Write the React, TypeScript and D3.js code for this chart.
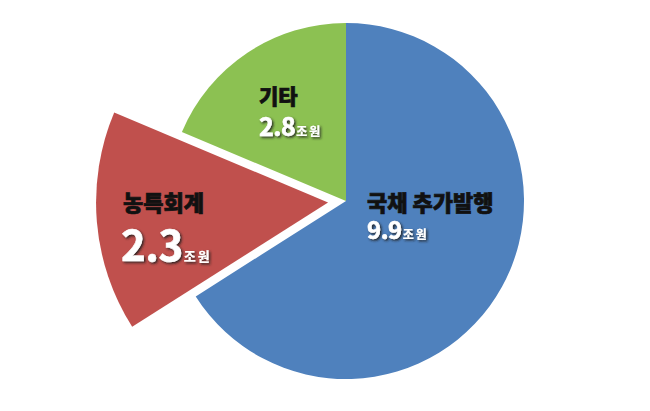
import React from "react";
import * as d3 from "d3";

const categories = ["국채 추가발행", "농특회계", "기타"];
const values = [9.9, 2.3, 2.8];
const valueLabels = ["9.9", "2.3", "2.8"];
const unitLabel = "조원";
const colors = ["#4F81BD", "#C0504D", "#8CC152"];

const W = 650;
const H = 411;
const CX = 346;
const CY = 201;
const R = 178;
const EXPLODE_R = 232;
const EXPLODE_OFFSET = 18;

const labelLayout = [
  { nx: 367, ny: 211, vx: 367, vy: 239, ns: 22, vs: 24, us: 12 },
  { nx: 123, ny: 211, vx: 121, vy: 261, ns: 22, vs: 42, us: 13 },
  { nx: 259, ny: 104, vx: 259, vy: 136, ns: 21, vs: 25, us: 12 },
];

export default function App() {
  const pie = d3
    .pie<number>()
    .sort(null)
    .startAngle(0)
    .endAngle(2 * Math.PI)
    .value((d) => d);
  const arcs = pie(values);
  const arcMain = d3.arc<d3.PieArcDatum<number>>().innerRadius(0).outerRadius(R);
  const arcBig = d3
    .arc<d3.PieArcDatum<number>>()
    .innerRadius(0)
    .outerRadius(EXPLODE_R);

  const font = "'Noto Sans CJK KR', 'Noto Sans', sans-serif";

  return (
    <div style={{ position: "absolute", left: 0, top: 0 }}>
      <svg width={W} height={H} style={{ display: "block", background: "#fff" }}>
        <defs>
          <filter id="sh" x="-20%" y="-20%" width="140%" height="160%">
            <feDropShadow dx="1.5" dy="1.5" stdDeviation="0.9" floodColor="#1a1a1a" floodOpacity="0.9" />
          </filter>
        </defs>
        <g transform={`translate(${CX},${CY})`}>
          {arcs.map((a, i) => {
            const exploded = i === 1;
            const mid = (a.startAngle + a.endAngle) / 2;
            const dx = exploded ? Math.sin(mid) * EXPLODE_OFFSET : 0;
            const dy = exploded ? -Math.cos(mid) * EXPLODE_OFFSET : 0;
            const path = exploded ? arcBig(a) : arcMain(a);
            return (
              <path
                key={categories[i]}
                d={path || ""}
                transform={`translate(${dx},${dy})`}
                fill={colors[i]}
              />
            );
          })}
        </g>
        {categories.map((c, i) => {
          const L = labelLayout[i];
          return (
            <g key={"lbl" + c} fontFamily={font}>
              <text
                x={L.nx}
                y={L.ny}
                fontSize={L.ns}
                fontWeight={900}
                fill="#111"
                stroke="#111"
                strokeWidth={0.7}
              >
                {c}
              </text>
              <text
                x={L.vx}
                y={L.vy}
                fill="#fff"
                stroke="#fff"
                strokeWidth={0.6}
                fontWeight={700}
                filter="url(#sh)"
              >
                <tspan fontSize={L.vs} letterSpacing={-0.5}>{valueLabels[i]}</tspan>
                <tspan fontSize={L.us} dx={1} letterSpacing={2} strokeWidth={0.2}>
                  {unitLabel}
                </tspan>
              </text>
            </g>
          );
        })}
      </svg>
    </div>
  );
}
